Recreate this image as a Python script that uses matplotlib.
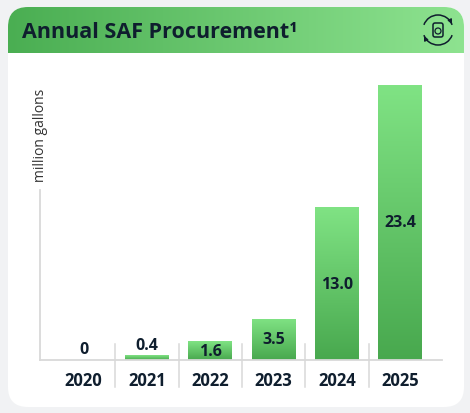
import numpy as np
import matplotlib
matplotlib.use("Agg")
import matplotlib.pyplot as plt
from matplotlib.patches import FancyBboxPatch, Circle, Arc, FancyArrowPatch
from matplotlib.transforms import blended_transform_factory

plt.rcParams["font.family"] = ["Open Sans", "DejaVu Sans"]

years = ["2020", "2021", "2022", "2023", "2024", "2025"]
saf_mgal = [0, 0.4, 1.6, 3.5, 13.0, 23.4]
labels = ["0", "0.4", "1.6", "3.5", "13.0", "23.4"]

INK = "#0f1e2e"
GRID = "#d9d9d9"
BAR_TOP = np.array([0x80, 0xe3, 0x84]) / 255
BAR_BOT = np.array([0x48, 0xa8, 0x4e]) / 255
HDR_L = np.array([0x4a, 0xae, 0x52]) / 255
HDR_R = np.array([0x8e, 0xe3, 0x90]) / 255

fig = plt.figure(figsize=(4.70, 4.14), dpi=100)
fig.patch.set_facecolor("#f1f2f4")

# background layer in pixel coords (y down)
bg = fig.add_axes([0, 0, 1, 1])
bg.set_xlim(0, 470); bg.set_ylim(414, 0); bg.axis("off")

card = FancyBboxPatch((8, 8), 456, 400, boxstyle="round,pad=0,rounding_size=20",
                      fc="white", ec="none")
bg.add_patch(card)

# header with horizontal gradient, rounded on top only
hdr_clip = FancyBboxPatch((8, 8), 456, 90, boxstyle="round,pad=0,rounding_size=20",
                          fc="none", ec="none")
bg.add_patch(hdr_clip)
t = np.linspace(0, 1, 256)[None, :, None]
grad = HDR_L[None, None, :] * (1 - t) + HDR_R[None, None, :] * t
im = bg.imshow(grad, extent=[8, 464, 54, 8], aspect="auto", zorder=1)
im.set_clip_path(hdr_clip)
bg.set_xlim(0, 470); bg.set_ylim(414, 0)

bg.text(22, 32, "Annual SAF Procurement\u00b9", fontsize=15.5, fontweight="bold",
        color=INK, va="center", ha="left", zorder=3)

# recycle icon
cx, cy = 438, 31
bg.add_patch(Arc((cx, cy), 30, 30, theta1=200, theta2=340, color=INK, lw=1.1, zorder=3))
bg.add_patch(Arc((cx, cy), 30, 30, theta1=20, theta2=160, color=INK, lw=1.1, zorder=3))
bg.add_patch(FancyArrowPatch((cx + 12, cy - 10), (cx + 14, cy - 6), arrowstyle="-|>",
                             mutation_scale=6, color=INK, lw=1, zorder=3))
bg.add_patch(FancyArrowPatch((cx - 12, cy + 10), (cx - 14, cy + 6), arrowstyle="-|>",
                             mutation_scale=6, color=INK, lw=1, zorder=3))
bg.add_patch(FancyBboxPatch((cx - 5, cy - 7), 10, 14, boxstyle="round,pad=0,rounding_size=2",
                            fc="none", ec=INK, lw=1.1, zorder=3))
bg.add_patch(Circle((cx, cy + 1), 3, fc="none", ec=INK, lw=0.9, zorder=3))

# chart axes
ax = fig.add_axes([40 / 470, (414 - 361) / 414, 402 / 470, 275 / 414])
ax.set_facecolor("none")
x = np.arange(len(years))
bars = ax.bar(x, saf_mgal, width=0.69, color="none", edgecolor="none", zorder=2)
for b in bars:
    if b.get_height() <= 0:
        b.set_edgecolor("#7fd483"); b.set_linewidth(0.8)

g = np.linspace(0, 1, 256)[:, None, None]
bar_grad = BAR_TOP[None, None, :] * (1 - g) + BAR_BOT[None, None, :] * g
for b in bars:
    if b.get_height() <= 0:
        continue
    x0, w, h = b.get_x(), b.get_width(), b.get_height()
    gi = ax.imshow(bar_grad, extent=[x0, x0 + w, 0, h], aspect="auto", zorder=1)
    gi.set_clip_path(b)
ax.set_xlim(-0.687, 5.66)
ax.set_ylim(0, 23.4)

for xi, v, lab in zip(x, saf_mgal, labels):
    if v >= 1:
        ax.text(xi, v / 2, lab, ha="center", va="center", fontsize=11.5,
                fontweight="bold", color=INK, zorder=3)
    else:
        ax.annotate(lab, (xi, v), xytext=(0, 2), textcoords="offset points",
                    ha="center", va="bottom", fontsize=11.5, fontweight="bold",
                    color=INK, zorder=3)

for s in ["top", "right"]:
    ax.spines[s].set_visible(False)
ax.spines["bottom"].set_color(GRID); ax.spines["bottom"].set_linewidth(1.3)
ax.spines["left"].set_color(GRID); ax.spines["left"].set_linewidth(1.3)
ax.spines["left"].set_bounds(0, 14.5)
ax.set_yticks([])
ax.set_xticks(x, years)
ax.tick_params(axis="x", length=0, pad=8, labelsize=12, labelcolor=INK)
for tl in ax.get_xticklabels():
    tl.set_fontweight("bold")

# category separators
tr = blended_transform_factory(ax.transData, bg.transData)
for xs in x[:-1] + 0.5:
    ax.plot([xs, xs], [345, 388], transform=tr, color=GRID, lw=1.1, clip_on=False, zorder=0)

bg.text(40, 135, "million gallons", rotation=90, ha="center", va="center",
        fontsize=10, color="#333333")

fig.savefig("out.png", dpi=100, facecolor=fig.get_facecolor())
